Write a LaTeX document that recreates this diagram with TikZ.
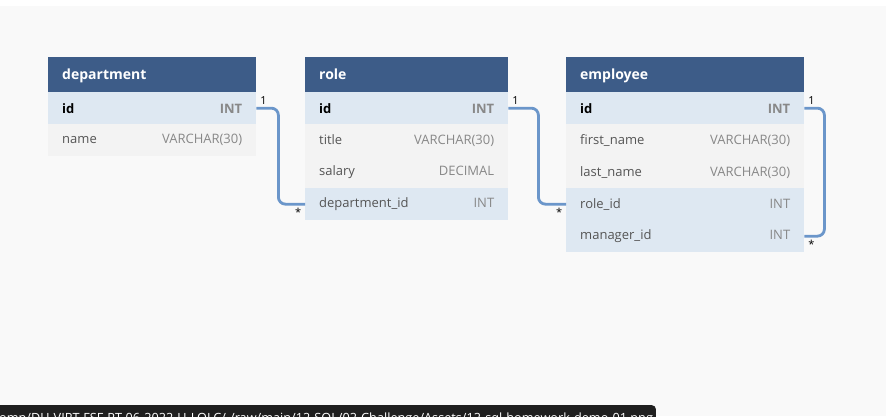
\documentclass[tikz,border=0pt]{standalone}
\usepackage{fontspec}
\setmainfont{Open Sans}
\usepackage{xcolor}
\usepackage{tikz}
\usetikzlibrary{positioning}

\definecolor{hdrblue}{HTML}{3D5C88}
\definecolor{keyblue}{HTML}{DEE8F2}
\definecolor{rowgray}{HTML}{F3F3F3}
\definecolor{bggray}{HTML}{F9F9F9}
\definecolor{relblue}{HTML}{6B96CA}
\definecolor{namegray}{HTML}{555555}
\definecolor{typegray}{HTML}{888888}

\newcommand{\fieldrow}[2]{\hbox to \hsize{#1\hfill\textcolor{typegray}{#2}}}

\begin{document}
\begin{tikzpicture}[
    x=1pt, y=1pt,
    font=\fontsize{13}{15}\selectfont,
    hdr/.style={rectangle, fill=hdrblue, text=white, font=\fontsize{14}{16}\selectfont\bfseries,
        minimum height=35pt, inner xsep=14pt, inner ysep=0pt, text depth=1pt, anchor=north west},
    keyrow/.style={rectangle, fill=keyblue, text=namegray, minimum height=32.1pt, inner xsep=14pt, inner ysep=0pt},
    plainrow/.style={rectangle, fill=rowgray, text=namegray, minimum height=32.1pt, inner xsep=14pt, inner ysep=0pt},
    rel/.style={draw=relblue, line width=2.8pt, rounded corners=7pt},
    mult/.style={font=\fontsize{11}{13}\selectfont, text=black, inner sep=2.5pt},
    tip/.style={rectangle, fill=black!88, text=white, rounded corners=4pt, font=\fontsize{12.7}{15}\selectfont,
        inner xsep=3pt, inner ysep=8pt, anchor=north west}
]

\useasboundingbox (0,0) rectangle (886,-416);
\clip (0,0) rectangle (886,-416);

% Background
\fill[white] (0,0) rectangle (886,-6);
\fill[bggray] (0,-6) rectangle (886,-416);

% Department table
\begin{scope}[nodes={text width=180pt}]
\node[hdr] (dept) at (48,-57) {department};
\node[keyrow, text=black, below=-0.5pt of dept] (dept-id) {\bfseries\fieldrow{id}{INT}};
\node[plainrow, below=-0.5pt of dept-id] (dept-name) {\fieldrow{name}{VARCHAR(30)}};
\end{scope}

% Role table
\begin{scope}[nodes={text width=175pt}]
\node[hdr] (role) at (305,-57) {role};
\node[keyrow, text=black, below=-0.5pt of role] (role-id) {\bfseries\fieldrow{id}{INT}};
\node[plainrow, below=-0.5pt of role-id] (role-title) {\fieldrow{title}{VARCHAR(30)}};
\node[plainrow, below=-0.5pt of role-title] (role-salary) {\fieldrow{salary}{DECIMAL}};
\node[keyrow, below=-0.5pt of role-salary] (role-dept) {\fieldrow{department\_id}{INT}};
\end{scope}

% Employee table
\begin{scope}[nodes={text width=210pt}]
\node[hdr] (emp) at (566,-57) {employee};
\node[keyrow, text=black, below=-0.5pt of emp] (emp-id) {\bfseries\fieldrow{id}{INT}};
\node[plainrow, below=-0.5pt of emp-id] (emp-first) {\fieldrow{first\_name}{VARCHAR(30)}};
\node[plainrow, below=-0.5pt of emp-first] (emp-last) {\fieldrow{last\_name}{VARCHAR(30)}};
\node[keyrow, below=-0.5pt of emp-last] (emp-role) {\fieldrow{role\_id}{INT}};
\node[keyrow, below=-0.5pt of emp-role] (emp-mgr) {\fieldrow{manager\_id}{INT}};
\end{scope}

% Relations
\draw[rel] (dept-id.east) node[mult, above right] {1} -- ++(22,0) |- (role-dept.west) node[mult, below left] {*};
\draw[rel] (role-id.east) node[mult, above right] {1} -- ++(30,0) |- (emp-role.west) node[mult, below left] {*};
\draw[rel] (emp-id.east) node[mult, above right] {1} -- ++(20,0) |- (emp-mgr.east) node[mult, below right] {*};

% Tooltip
\node[tip] (tooltip) at (-4,-405) {omp/DU-VIRT-FSF-PT-06-2022-U-LOLC/-/raw/main/12-SQL/02-Challenge/Assets/12-sql-homework-demo-01.png};

\end{tikzpicture}
\end{document}
